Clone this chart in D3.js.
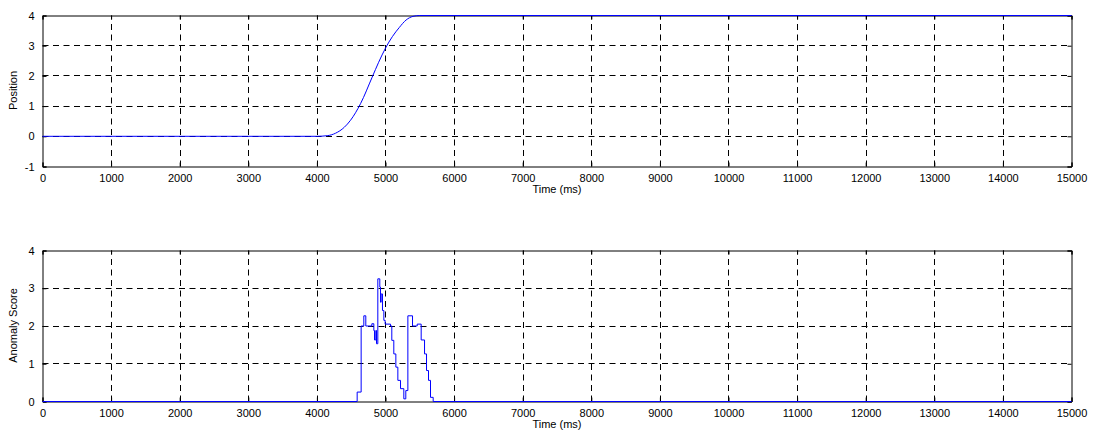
<!DOCTYPE html>
<html lang="en">
<head>
    <meta charset="UTF-8">
    <title>Position and Anomaly Score</title>
    <script src="https://d3js.org/d3.v7.min.js"></script>
    <style>
        body{
            margin: 0;
            background: #ffffff;
        }
        text{
            font-family: "Liberation Sans", Arial, sans-serif;
            font-size: 11px;
            fill: #000;
        }
        .grid line{
            stroke: #000;
            stroke-width: 1;
            stroke-dasharray: 6,4.5;
        }
    </style>
</head>
<body>
    <svg id='fig' width="1093" height="437"></svg>

    <script>
        // x ticks shared by both panels
        let timeTicks = [0, 1000, 2000, 3000, 4000, 5000, 6000, 7000, 8000, 9000, 10000, 11000, 12000, 13000, 14000, 15000];

        // top panel: position vs time
        let posTimes  = [0, 4000, 4150, 4270, 4400, 4490, 4636, 4806, 4900, 5000, 5100, 5200, 5300, 5400, 5500, 15000];
        let posValues = [0, 0, 0.02, 0.1, 0.3, 0.53, 1.08, 1.96, 2.45, 2.92, 3.3, 3.6, 3.85, 3.97, 4, 4];
        let posTicks  = [-1, 0, 1, 2, 3, 4];

        // bottom panel: anomaly score, stairs
        let scoreTimes  = [0, 4587, 4645, 4684, 4713, 4801, 4830, 4840, 4859, 4869, 4888, 4917, 4927, 4937, 4956, 4976, 4995, 5073, 5092, 5121, 5151, 5180, 5219, 5267, 5296, 5326, 5394, 5462, 5520, 5569, 5598, 5627, 5656, 5695, 15000];
        let scoreValues = [0, 0.25, 2.0, 2.27, 2.0, 2.06, 1.88, 1.63, 1.88, 1.53, 3.25, 3.03, 2.63, 2.85, 2.41, 2.15, 2.05, 2.0, 1.62, 1.26, 0.91, 0.56, 0.34, 0.07, 0.29, 2.27, 2.0, 2.05, 1.63, 1.26, 0.82, 0.56, 0.11, 0, 0];
        let scoreTicks  = [0, 1, 2, 3, 4];

        let svg = d3.select("#fig");

        function panel(opts){
            let x = d3.scaleLinear().domain([0, 15000]).range([42.5, 1071.5]);
            let y = d3.scaleLinear().domain(opts.yDomain).range([opts.bottom + 0.5, opts.top + 0.5]);
            let g = svg.append("g");

            // dashed grid
            let grid = g.append("g").attr("class", "grid");
            grid.selectAll(".vx")
                .data(timeTicks.slice(1, -1))
                .join("line")
                .attr("x1", d => Math.round(x(d)) + 0.5).attr("x2", d => Math.round(x(d)) + 0.5)
                .attr("y1", y.range()[0]).attr("y2", y.range()[1]);
            grid.selectAll(".hy")
                .data(opts.yTicks.slice(1, -1))
                .join("line")
                .attr("y1", d => Math.round(y(d) - 0.5) + 0.5).attr("y2", d => Math.round(y(d) - 0.5) + 0.5)
                .attr("x1", x.range()[0]).attr("x2", x.range()[1]);

            // axes, ticks inward like matlab
            let xb = d3.axisBottom(x).tickValues(timeTicks).tickSize(-4).tickPadding(8).tickFormat(d => String(d));
            let xt = d3.axisTop(x).tickValues(timeTicks).tickSize(-4).tickFormat("");
            let yl = d3.axisLeft(y).tickValues(opts.yTicks).tickSize(-4).tickPadding(8).tickFormat(d => String(d));
            let yr = d3.axisRight(y).tickValues(opts.yTicks).tickSize(-4).tickFormat("");

            [[xb, `translate(0,${y.range()[0]})`], [xt, `translate(0,${y.range()[1]})`],
             [yl, `translate(${x.range()[0]},0)`], [yr, `translate(${x.range()[1]},0)`]].forEach(function(a){
                let ax = g.append("g").attr("transform", a[1]).call(a[0]);
                ax.select(".domain").attr("stroke", "#000").attr("stroke-width", 1);
                ax.selectAll(".tick line").attr("stroke", "#000");
                ax.selectAll("text").attr("font-family", null).attr("font-size", null);
            });

            // the data line
            let line = d3.line()
                .x((d, i) => x(opts.xs[i]))
                .y(d => y(d))
                .curve(opts.curve);
            g.append("path")
                .datum(opts.ys)
                .attr("d", line)
                .attr("fill", "none")
                .attr("stroke", "#0000ff")
                .attr("stroke-width", 1);

            // labels
            g.append("text")
                .attr("x", (x.range()[0] + x.range()[1]) / 2)
                .attr("y", opts.bottom + 27)
                .attr("text-anchor", "middle")
                .text("Time (ms)");
            g.append("text")
                .attr("transform", `translate(17,${(opts.top + opts.bottom) / 2}) rotate(-90)`)
                .attr("text-anchor", "middle")
                .text(opts.yLabel);
        }

        panel({top: 15, bottom: 166, yDomain: [-1, 4], yTicks: posTicks,
               xs: posTimes, ys: posValues, curve: d3.curveMonotoneX, yLabel: "Position"});
        panel({top: 250, bottom: 401, yDomain: [0, 4], yTicks: scoreTicks,
               xs: scoreTimes, ys: scoreValues, curve: d3.curveStepAfter, yLabel: "Anomaly Score"});
    </script>
</body>
</html>
